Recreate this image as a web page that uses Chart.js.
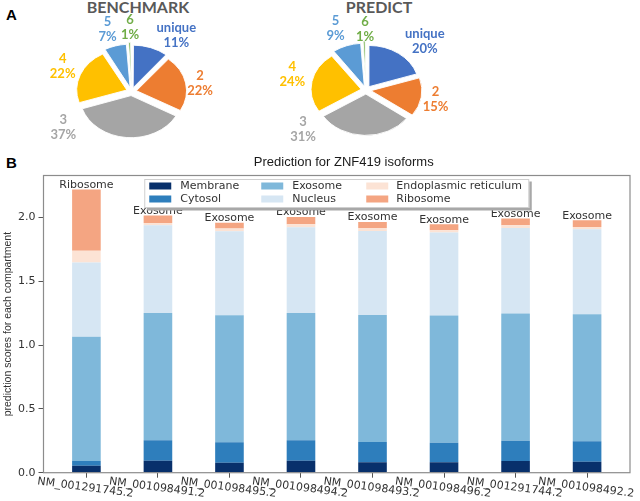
<!DOCTYPE html>
<html>
<head>
<meta charset="utf-8">
<script src="https://cdn.jsdelivr.net/npm/chart.js@4.4.1/dist/chart.umd.min.js"></script>
<style>
body { margin: 0; width: 640px; height: 501px; background: #fff; position: relative; overflow: hidden; }
canvas { position: absolute; }
.tag { position: absolute; font: bold 15px "Liberation Sans", Arial, sans-serif; color: #000; }
.pietitle { position: absolute; font: bold 16px Lato, sans-serif; line-height: 16px; color: #595959; transform: translateX(-50%); white-space: nowrap; }
</style>
</head>
<body>
<div class="tag" style="left:6px;top:6px">A</div>
<div class="tag" style="left:6px;top:154px">B</div>
<div class="pietitle" style="left:138px;top:-1px">BENCHMARK</div>
<div class="pietitle" style="left:379px;top:-1px">PREDICT</div>
<canvas id="pieBench" width="263" height="183" style="left:0;top:0"></canvas>
<canvas id="piePred" width="264" height="180" style="left:234px;top:0"></canvas>
<canvas id="bars" width="640" height="351" style="left:0;top:150px"></canvas>
<script>
// panel A
var pieCategories = ['unique', '2', '3', '4', '5', '6'];
var benchmarkShares = [11, 22, 37, 22, 7, 1];
var predictShares = [20, 15, 31, 24, 9, 1];
var pieColors = ['#4472c4', '#ed7d31', '#a5a5a5', '#ffc000', '#5b9bd5', '#70ad47'];

// panel B
var isoforms = ['NM_001291745.2', 'NM_001098491.2', 'NM_001098495.2', 'NM_001098494.2',
                'NM_001098493.2', 'NM_001098496.2', 'NM_001291744.2', 'NM_001098492.2'];
var compartments = ['Membrane', 'Cytosol', 'Exosome', 'Nucleus', 'Endoplasmic reticulum', 'Ribosome'];
var membrane = [0.055, 0.094, 0.078, 0.094, 0.081, 0.081, 0.092, 0.086];
var cytosol  = [0.037, 0.160, 0.160, 0.160, 0.159, 0.154, 0.159, 0.160];
var exosome  = [0.973, 0.999, 0.997, 0.999, 0.997, 0.997, 0.997, 0.997];
var nucleus  = [0.582, 0.687, 0.658, 0.671, 0.658, 0.651, 0.671, 0.665];
var er       = [0.093, 0.017, 0.021, 0.024, 0.024, 0.018, 0.021, 0.019];
var ribosome = [0.480, 0.060, 0.046, 0.057, 0.047, 0.047, 0.052, 0.052];
var predicted = ['Ribosome', 'Exosome', 'Exosome', 'Exosome', 'Exosome', 'Exosome', 'Exosome', 'Exosome'];
var compColors = ['#08306b', '#2e7ebc', '#7fb8da', '#d6e6f3', '#fce3d5', '#f4a582'];

// where excel put the slice labels, relative to the pie centre
var benchSpots = [[44.8, -55.7], [68.5, -8.2], [-68.2, 36.2], [-68.8, -25.3], [-24, -62.3], [-1.5, -64]];
var predSpots  = [[58.8, -48.9], [69.5, 9.8], [-62.9, 39.5], [-73.7, -15.5], [-30.5, -61.4], [-0.9, -60.5]];

var tilt = {
    id: 'tilt',
    beforeDatasetsDraw: function(chart){
        var a = chart.chartArea, ctx = chart.ctx;
        var cx = (a.left + a.right) / 2, cy = (a.top + a.bottom) / 2;
        ctx.save();
        ctx.translate(cx, cy);
        ctx.scale(1, 0.82);
        ctx.translate(-cx, -cy);
    },
    afterDatasetsDraw: function(chart){
        chart.ctx.restore();
    }
};

var sliceLabels = {
    id: 'sliceLabels',
    afterDraw: function(chart){
        var a = chart.chartArea, ctx = chart.ctx;
        var cx = (a.left + a.right) / 2, cy = (a.top + a.bottom) / 2;
        var ds = chart.data.datasets[0];
        var spots = chart.options.plugins.sliceLabels.spots;
        ctx.save();
        ctx.font = 'bold 13px Lato, sans-serif';
        ctx.textAlign = 'center';
        ctx.textBaseline = 'middle';
        for (var i = 0; i < ds.data.length; i++) {
            ctx.fillStyle = ds.backgroundColor[i];
            ctx.fillText(chart.data.labels[i], cx + spots[i][0], cy + spots[i][1] - 7.5);
            ctx.fillText(ds.data[i] + '%', cx + spots[i][0], cy + spots[i][1] + 7.5);
        }
        ctx.restore();
    }
};

var makePie = function(id, shares, spots){
    return new Chart(document.getElementById(id), {
        type: 'pie',
        data: {
            labels: pieCategories,
            datasets: [{
                data: shares,
                backgroundColor: pieColors,
                borderColor: '#fff',
                borderWidth: 1,
                offset: 20,
                radius: 50
            }]
        },
        options: {
            responsive: false,
            animation: false,
            layout: { padding: 0 },
            plugins: {
                legend: { display: false },
                tooltip: { enabled: false },
                sliceLabels: { spots: spots }
            }
        },
        plugins: [tilt, sliceLabels]
    });
};

makePie('pieBench', benchmarkShares, benchSpots);
makePie('piePred', predictShares, predSpots);

var decor = {
    id: 'decor',
    afterDatasetsDraw: function(chart){
        var ctx = chart.ctx, a = chart.chartArea;
        var xs = chart.scales.x, ys = chart.scales.y;
        var sets = chart.data.datasets;
        ctx.save();

        // axes frame
        ctx.strokeStyle = '#8c8c8c';
        ctx.lineWidth = 1.2;
        ctx.strokeRect(a.left, a.top, a.right - a.left, a.bottom - a.top);

        // predicted compartment on top of each bar
        ctx.font = '11px "DejaVu Sans", sans-serif';
        ctx.fillStyle = '#333';
        ctx.textAlign = 'center';
        ctx.textBaseline = 'alphabetic';
        for (var i = 0; i < isoforms.length; i++) {
            var total = 0;
            for (var j = 0; j < sets.length; j++) total += sets[j].data[i].y;
            ctx.fillText(predicted[i], xs.getPixelForValue(i), ys.getPixelForValue(total) - 1.5);
        }

        // isoform names, slanted
        for (i = 0; i < isoforms.length; i++) {
            ctx.save();
            ctx.translate(xs.getPixelForValue(i) - 1, a.bottom + 15);
            ctx.rotate(7.5 * Math.PI / 180);
            ctx.textBaseline = 'middle';
            ctx.fillText(isoforms[i], 0, 0);
            ctx.restore();
        }

        // title
        ctx.font = '13px "Liberation Sans", Arial, sans-serif';
        ctx.fillStyle = '#1a1a1a';
        ctx.textBaseline = 'middle';
        ctx.fillText('Prediction for ZNF419 isoforms', (a.left + a.right) / 2 + 7, 12);

        // legend, 3 columns filled top to bottom
        var bw = 385, bh = 29;
        var bx = (a.left + a.right) / 2 - bw / 2, by = a.top + 3.5;
        ctx.fillStyle = '#a8a8a8';
        ctx.fillRect(bx + 2.5, by + 2.5, bw, bh);
        ctx.fillStyle = '#fff';
        ctx.fillRect(bx, by, bw, bh);
        ctx.strokeStyle = '#cfcfcf';
        ctx.lineWidth = 1;
        ctx.strokeRect(bx + 0.5, by + 0.5, bw - 1, bh - 1);
        var swatchX = [5, 117, 222], textX = [36, 148, 252], rowY = [7, 20];
        ctx.font = '11px "DejaVu Sans", sans-serif';
        ctx.textAlign = 'left';
        for (j = 0; j < sets.length; j++) {
            var col = Math.floor(j / 2), row = j % 2;
            ctx.fillStyle = sets[j].backgroundColor;
            ctx.fillRect(bx + swatchX[col], by + rowY[row] - 3.5, 22, 7);
            ctx.fillStyle = '#333';
            ctx.fillText(sets[j].label, bx + textX[col], by + rowY[row]);
        }
        ctx.restore();
    }
};

var series = [membrane, cytosol, exosome, nucleus, er, ribosome];
var barSets = series.map(function(vals, k){
    return {
        label: compartments[k],
        backgroundColor: compColors[k],
        borderWidth: 0,
        categoryPercentage: 1,
        barPercentage: 0.4,
        data: vals.map(function(v, i){ return {x: i, y: v}; })
    };
});

new Chart(document.getElementById('bars'), {
    type: 'bar',
    data: { datasets: barSets },
    options: {
        responsive: false,
        animation: false,
        layout: { padding: { top: 25.5, right: 10, bottom: 0, left: 0 } },
        plugins: { legend: { display: false }, tooltip: { enabled: false }, title: { display: false } },
        scales: {
            x: {
                type: 'linear',
                stacked: true,
                offset: false,
                min: -0.6,
                max: 7.6,
                afterBuildTicks: function(scale){
                    scale.ticks = isoforms.map(function(n, i){ return {value: i}; });
                },
                afterFit: function(scale){ scale.height = 28.3; },
                ticks: { display: false },
                grid: { display: true, offset: false, drawOnChartArea: false, drawTicks: true, tickLength: 5, color: '#555' },
                border: { display: false }
            },
            y: {
                stacked: true,
                min: 0,
                max: 2.33,
                afterBuildTicks: function(scale){
                    scale.ticks = [0, 0.5, 1, 1.5, 2].map(function(v){ return {value: v}; });
                },
                afterFit: function(scale){ scale.width = 43.5; },
                ticks: {
                    padding: 3,
                    color: '#333',
                    font: { family: 'DejaVu Sans', size: 11 },
                    callback: function(v){ return v.toFixed(1); }
                },
                grid: { display: true, drawOnChartArea: false, drawTicks: true, tickLength: 5, color: '#555' },
                border: { display: false },
                title: {
                    display: true,
                    text: 'prediction scores for each compartment',
                    color: '#333',
                    padding: { top: 2, bottom: 0 },
                    font: { family: 'Liberation Sans', size: 10.5 }
                }
            }
        }
    },
    plugins: [decor]
});
</script>
</body>
</html>
